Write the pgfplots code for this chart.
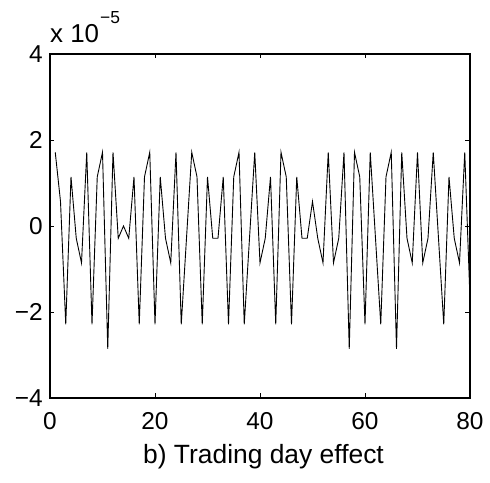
\documentclass[border=0pt]{standalone}
\usepackage{pgfplots}
\pgfplotsset{compat=1.18}
\usepackage{fontspec}
\setmainfont{Liberation Sans}
\begin{document}
\begin{tikzpicture}[x=1bp,y=1bp]
\useasboundingbox (-50bp,-85bp) rectangle (440bp,398bp);
\begin{axis}[
  at={(0,0)}, anchor=south west,
  scale only axis,
  width=420bp, height=344bp,
  xmin=0, xmax=80, ymin=-4, ymax=4,
  xtick={0,20,40,60,80},
  ytick={-4,-2,0,2,4},
  yticklabels={−4,−2,0,2,4},
  xticklabels={0,20,40,60,80},
  tick align=inside,
  tick pos=both,
  major tick length=4.5bp,
  axis line style={line width=1.3bp},
  every tick/.style={black, line width=0.8bp},
  ticklabel style={font=\fontsize{24.5}{24.5}\selectfont, inner sep=0pt},
  xticklabel style={anchor=north, yshift=-14bp},
  yticklabel style={anchor=east, xshift=-7bp},
  clip=true,
]
\addplot[black, line width=0.9bp] coordinates {
(1,1.714)(2,0.571)(3,-2.286)(4,1.143)(5,-0.286)(6,-0.857)(7,1.714)(8,-2.286)(9,1.143)(10,1.714)
(11,-2.857)(12,1.714)(13,-0.286)(14,0)(15,-0.286)(16,1.143)(17,-2.286)(18,1.143)(19,1.714)(20,-2.286)
(21,1.143)(22,-0.286)(23,-0.857)(24,1.714)(25,-2.286)(26,-0.286)(27,1.714)(28,1.143)(29,-2.286)(30,1.143)
(31,-0.286)(32,-0.286)(33,1.143)(34,-2.286)(35,1.143)(36,1.714)(37,-2.286)(38,-0.286)(39,1.714)(40,-0.857)
(41,-0.286)(42,1.143)(43,-2.286)(44,1.714)(45,1.143)(46,-2.286)(47,1.143)(48,-0.286)(49,-0.286)(50,0.571)
(51,-0.286)(52,-0.857)(53,1.714)(54,-0.857)(55,-0.286)(56,1.714)(57,-2.857)(58,1.714)(59,1.143)(60,-2.286)
(61,1.714)(62,-0.286)(63,-2.286)(64,1.143)(65,1.714)(66,-2.857)(67,1.714)(68,-0.286)(69,-0.857)(70,1.714)
(71,-0.857)(72,-0.286)(73,1.714)(74,-0.286)(75,-2.286)(76,1.143)(77,-0.286)(78,-0.857)(79,1.714)(80,-1.714)
};
\end{axis}
\node[anchor=base west, inner sep=0pt, font=\fontsize{26}{26}\selectfont] at (0,356) {x 10};
\node[anchor=base west, inner sep=0pt, font=\fontsize{17.5}{17.5}\selectfont] at (50,375) {−5};
\node[anchor=base, inner sep=0pt, font=\fontsize{26.5}{26.5}\selectfont] at (213.5,-65) {b) Trading day effect};
\end{tikzpicture}
\end{document}
